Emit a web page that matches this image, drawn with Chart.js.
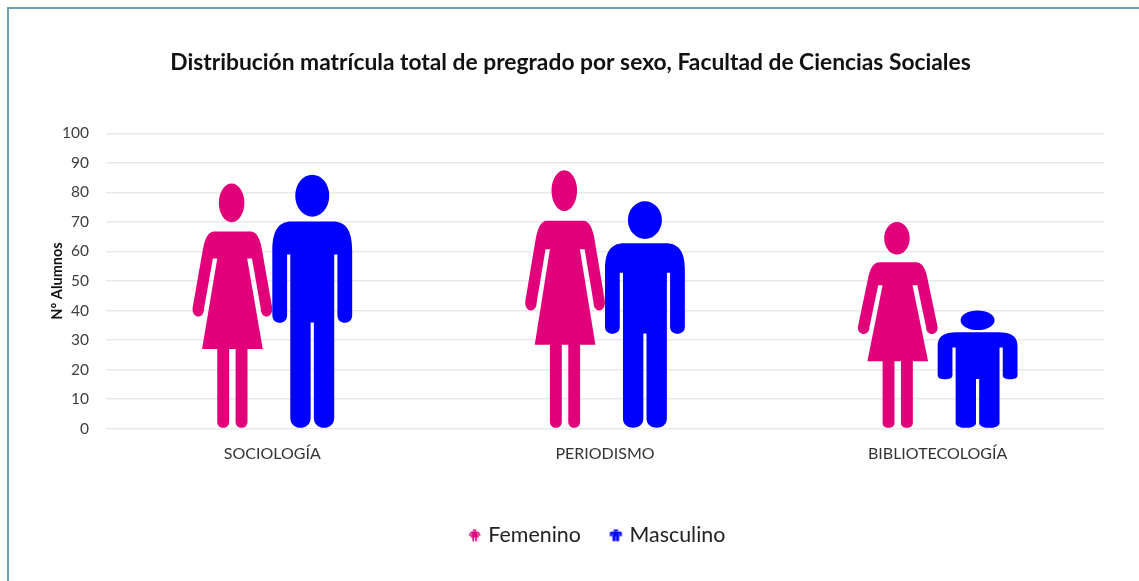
<!DOCTYPE html>
<html><head><meta charset="utf-8">
<style>
html,body{margin:0;padding:0;background:#fff;overflow:hidden}
#wrap{position:relative;width:1139px;height:581px;overflow:hidden}
#frame{position:absolute;left:7px;top:7px;width:1200px;height:600px;border:2px solid #6f9fb5;box-sizing:border-box}
canvas{position:absolute;left:0;top:0}
</style>
<script src="https://cdn.jsdelivr.net/npm/chart.js@4"></script>
</head><body>
<div id="wrap"><div id="frame"></div><canvas id="c" width="1139" height="581"></canvas></div>
<script>
const categories = ['SOCIOLOGÍA','PERIODISMO','BIBLIOTECOLOGÍA'];
const femenino = [83,87.5,70];
const masculino = [86,77,40];
const yTicks = [0,10,20,30,40,50,60,70,80,90,100];
const title = 'Distribución matrícula total de pregrado por sexo, Facultad de Ciencias Sociales';
const yTitle = 'Nº Alumnos';
const PINK = '#E2007A', BLUE = '#0000FF';

// Pictograms drawn in a unit box (0..1 wide, 0..1 tall)
function womanPath(c){
  c.beginPath();
  c.ellipse(.49,.079,.16,.079,0,0,Math.PI*2);
  c.closePath();
  // body with arms and dress
  c.moveTo(.27,.196);
  c.lineTo(.73,.196);
  c.quadraticCurveTo(.83,.196,.87,.27);
  c.lineTo(1,.511);
  c.bezierCurveTo(1,.555,.855,.555,.855,.511);
  c.lineTo(.745,.307);
  c.lineTo(.685,.307);
  c.lineTo(.880,.677);
  c.lineTo(.120,.677);
  c.lineTo(.31,.307);
  c.lineTo(.255,.307);
  c.lineTo(.145,.511);
  c.bezierCurveTo(.145,.555,0,.555,0,.511);
  c.lineTo(.13,.27);
  c.quadraticCurveTo(.17,.196,.27,.196);
  c.closePath();
  // legs
  leg(c,.31,.459,.677,1,.024);
  leg(c,.54,.689,.677,1,.024);
}
function manPath(c){
  c.beginPath();
  c.ellipse(.5,.083,.213,.083,0,0,Math.PI*2);
  c.closePath();
  c.moveTo(.24,.185);
  c.lineTo(.76,.185);
  c.bezierCurveTo(.92,.185,1,.22,1,.30);
  c.lineTo(1,.555);
  c.bezierCurveTo(1,.595,.815,.595,.815,.555);
  c.lineTo(.815,.315);
  c.lineTo(.775,.315);
  c.lineTo(.775,.96);
  c.bezierCurveTo(.775,1.013,.52,1.013,.52,.96);
  c.lineTo(.52,.584);
  c.lineTo(.48,.584);
  c.lineTo(.48,.96);
  c.bezierCurveTo(.48,1.013,.225,1.013,.225,.96);
  c.lineTo(.225,.315);
  c.lineTo(.185,.315);
  c.lineTo(.185,.555);
  c.bezierCurveTo(.185,.595,0,.595,0,.555);
  c.lineTo(0,.30);
  c.bezierCurveTo(0,.22,.08,.185,.24,.185);
  c.closePath();
}
function leg(c,x0,x1,y0,y1,r){
  c.moveTo(x0,y0);c.lineTo(x1,y0);c.lineTo(x1,y1-r);
  c.bezierCurveTo(x1,y1+r*.33,x0,y1+r*.33,x0,y1-r);
  c.closePath();
}
function figure(c,path,color,x,y,w,h){
  c.save();c.translate(x,y);c.scale(w,h);c.fillStyle=color;path(c);c.fill();c.restore();
}
function legendIcon(path,color){
  const k=document.createElement('canvas');k.width=15;k.height=15;
  const c=k.getContext('2d');
  figure(c,path,color,1.5,1.5,12,12);
  return k;
}
const pictos=[[womanPath,PINK],[manPath,BLUE]];
const pictograms={id:'pictograms',
  afterLayout(chart){
    const l=chart.legend,t=chart.titleBlock;
    if(l){l.left+=22;l.right+=22;}
    if(t){t.left-=6;t.right-=6;}
  },
  afterDatasetsDraw(chart){
    const c=chart.ctx;
    chart.data.datasets.forEach((d,i)=>{
      chart.getDatasetMeta(i).data.forEach(bar=>{
        const p=bar.getProps(['x','y','base','width'],true);
        figure(c,pictos[i][0],pictos[i][1],p.x-p.width/2,p.y,p.width,p.base-p.y);
      });
    });
  }};
new Chart(document.getElementById('c'),{
  type:'bar',
  data:{labels:categories,datasets:[
    {label:'Femenino',data:femenino,backgroundColor:'rgba(0,0,0,0)',pointStyle:legendIcon(womanPath,PINK)},
    {label:'Masculino',data:masculino,backgroundColor:'rgba(0,0,0,0)',pointStyle:legendIcon(manPath,BLUE)}
  ]},
  plugins:[pictograms],
  options:{
    responsive:false,animation:false,devicePixelRatio:1,
    categoryPercentage:.48,barPercentage:1,
    layout:{padding:{left:49,right:35,top:49,bottom:25}},
    plugins:{
      tooltip:{enabled:false},
      title:{display:true,text:title,color:'#111',font:{family:'Lato',size:22.8,weight:'bold'},padding:{top:0,bottom:57}},
      legend:{position:'bottom',labels:{
        usePointStyle:true,color:'#222',font:{family:'Lato',size:21.4},padding:32,boxWidth:6,boxHeight:16,
        generateLabels(chart){
          return chart.data.datasets.map((d,i)=>({text:d.label,datasetIndex:i,pointStyle:d.pointStyle,fontColor:'#222',hidden:false,fillStyle:'#000',strokeStyle:'#000',lineWidth:0}));
        }
      }}
    },
    scales:{
      x:{afterFit(s){s.height=64},grid:{display:false},border:{display:false},ticks:{color:'#333',font:{family:'Lato',size:16},padding:8,maxRotation:0}},
      y:{min:0,max:100,
        afterFit(s){s.width=57},
        afterBuildTicks(s){s.ticks=yTicks.map(v=>({value:v}))},
        grid:{color:'#e9e9e9',lineWidth:1.5,drawTicks:false},border:{display:false},
        ticks:{color:'#404040',font:{family:'Lato',size:15.5},padding:17},
        title:{display:true,text:yTitle,color:'#111',font:{family:'Lato',size:14.5,weight:'bold'},padding:0}
      }
    }
  }
});
</script>
</body></html>
